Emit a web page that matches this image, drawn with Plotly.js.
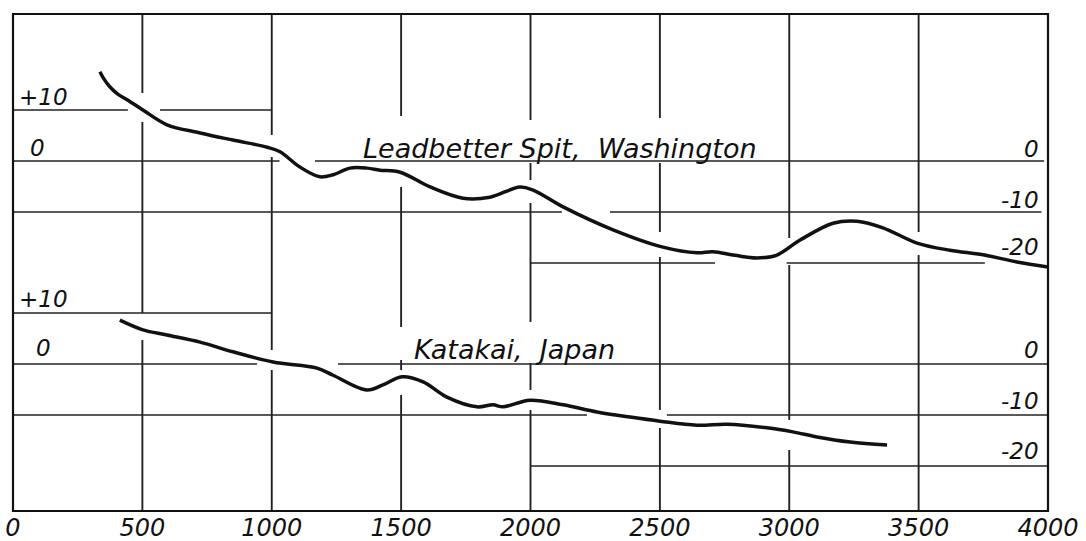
<!DOCTYPE html>
<html>
<head>
<meta charset="utf-8">
<script src="https://cdn.plot.ly/plotly-3.0.1.min.js"></script>
<style>html,body{margin:0;padding:0;background:#fff;}</style>
</head>
<body>
<div id="chart" style="width:1086px;height:541px;"></div>
<script>
// Distance along profile (ft) and elevation (ft)
const leadbetterX = [336,350,375,405,441,502,595,723,850,982,1032,1109,1186,1237,1302,1368,1418,1496,1612,1739,1843,1959,2010,2126,2319,2512,2643,2705,2790,2875,2950,3042,3169,3262,3362,3494,3621,3749,3880,4000];
const leadbetterY = [17.5,16.2,14.5,13.1,12.0,10.0,7.1,5.5,4.1,2.7,1.8,-1.2,-3.1,-2.7,-1.4,-1.4,-1.8,-2.2,-5.1,-7.3,-7.1,-5.1,-5.7,-9.0,-13.5,-16.9,-18.0,-17.8,-18.5,-19.0,-18.5,-15.5,-12.2,-11.8,-13.1,-16.1,-17.5,-18.4,-19.8,-20.8];

const katakaiX = [413,502,595,723,850,1005,1175,1237,1368,1430,1503,1585,1677,1793,1855,1894,1998,2126,2257,2385,2500,2643,2759,2914,3014,3107,3235,3378];
const katakaiY = [8.6,6.7,5.7,4.3,2.4,0.4,-0.8,-2.2,-5.1,-4.1,-2.5,-3.5,-6.5,-8.4,-8.0,-8.4,-7.1,-8.0,-9.4,-10.4,-11.2,-12.0,-11.8,-12.5,-13.3,-14.3,-15.3,-15.9];

const xTicks = [0,500,1000,1500,2000,2500,3000,3500,4000];
const xTickText = ['0','500','1000','1500','2000','2500','3000','3500','4000'];

const profileNames = ['Leadbetter Spit,  Washington', 'Katakai,  Japan'];
const elevLabelsLeft = ['+10','0'];
const elevLabelsRight = ['0','-10','-20'];

const FONT = 'DejaVu Sans, sans-serif';
const INK = '#111';
const GRID = '#222';

const traces = [
  {x: leadbetterX, y: leadbetterY, yaxis: 'y', type: 'scatter', mode: 'lines',
   line: {color: INK, width: 3.5, shape: 'spline', smoothing: 1.0}, hoverinfo: 'skip', showlegend: false},
  {x: katakaiX, y: katakaiY, yaxis: 'y2', type: 'scatter', mode: 'lines',
   line: {color: INK, width: 3.5, shape: 'spline', smoothing: 1.0}, hoverinfo: 'skip', showlegend: false}
];

const shapes = [];
function hseg(yref, y, x0, x1) {
  shapes.push({type: 'line', xref: 'x', yref: yref, x0: x0, x1: x1, y0: y, y1: y,
    line: {color: GRID, width: 1.7}});
}
function vseg(x, y0, y1) {
  shapes.push({type: 'line', xref: 'x', yref: 'y', x0: x, x1: x, y0: y0, y1: y1,
    line: {color: GRID, width: 1.9}});
}
// upper profile reference lines
hseg('y', 10, 0, 444); hseg('y', 10, 568, 1000);
hseg('y', 0, 0, 1030); hseg('y', 0, 1167, 3985);
hseg('y', -10, 0, 2121); hseg('y', -10, 2307, 3975);
hseg('y', -20, 2000, 2713); hseg('y', -20, 2990, 3756);
// lower profile reference lines
hseg('y2', 10, 0, 1000);
hseg('y2', 0, 0, 943); hseg('y2', 0, 1256, 4000);
hseg('y2', -10, 0, 2218); hseg('y2', -10, 2527, 4000);
hseg('y2', -20, 2000, 4000);

// vertical rulings, broken where curves and lettering cross (upper-axis units)
const TOP = 28.82, BOT = -68.63;
const vGaps = {
  500:  [[13.33, 7.65], [-29.80, -35.10]],
  1000: [[5.10, 0.78], [-37.06, -40.98]],
  1500: [[8.82, -5.10], [-32.55, -39.02], [-41.0, -45.88]],
  2000: [[8.04, -0.39], [-3.73, -8.24], [-31.57, -39.61], [-44.90, -48.82]],
  2500: [[8.43, -0.39], [-13.92, -18.82], [-48.82, -52.35]],
  3000: [[-15.10, -20.39], [-50.78, -56.67]],
  3500: [[-13.92, -18.43]]
};
Object.keys(vGaps).forEach(k => {
  const x = +k;
  let cur = TOP;
  vGaps[k].forEach(g => { vseg(x, cur, g[0]); cur = g[1]; });
  vseg(x, cur, BOT);
});
// frame
shapes.push({type: 'rect', xref: 'paper', yref: 'paper', x0: 0, x1: 1, y0: 0, y1: 1,
  line: {color: INK, width: 2.2}});

const annFont = {family: FONT, size: 23, color: INK, style: 'italic'};
const annotations = [];
// left labels
const leftPos = [[15, 12.5, 'left'], [93, 2.5, 'center']];
const leftPos2 = [[17, 12.7, 'left'], [116, 3.1, 'center']];
elevLabelsLeft.forEach((t, i) => {
  annotations.push({x: leftPos[i][0], y: leftPos[i][1], xref: 'x', yref: 'y', text: t,
    showarrow: false, xanchor: leftPos[i][2], yanchor: 'middle', font: annFont});
  annotations.push({x: leftPos2[i][0], y: leftPos2[i][1], xref: 'x', yref: 'y2', text: t,
    showarrow: false, xanchor: leftPos2[i][2], yanchor: 'middle', font: annFont});
});
// right labels
const rightUpper = [2.35, -7.6, -16.9];
const rightLower = [2.7, -7.3, -17.1];
elevLabelsRight.forEach((t, i) => {
  annotations.push({x: 3972, y: rightUpper[i], xref: 'x', yref: 'y', text: t,
    showarrow: false, xanchor: 'right', yanchor: 'middle', font: annFont});
  annotations.push({x: 3972, y: rightLower[i], xref: 'x', yref: 'y2', text: t,
    showarrow: false, xanchor: 'right', yanchor: 'middle', font: annFont});
});
// profile names
const nameFont = {family: FONT, size: 27, color: INK, style: 'italic'};
annotations.push({x: 2114, y: 2.4, xref: 'x', yref: 'y', text: profileNames[0], showarrow: false,
  xanchor: 'center', yanchor: 'middle', font: nameFont});
annotations.push({x: 1940, y: 2.9, xref: 'x', yref: 'y2', text: profileNames[1], showarrow: false,
  xanchor: 'center', yanchor: 'middle', font: nameFont});

const layout = {
  width: 1086, height: 541,
  margin: {l: 13, r: 38, t: 14, b: 30, pad: 0},
  paper_bgcolor: '#fff', plot_bgcolor: '#fff',
  showlegend: false,
  xaxis: {range: [0, 4000], showgrid: false, zeroline: false, showline: false,
    tickmode: 'array', tickvals: xTicks, ticktext: xTickText, ticks: '',
    ticklabelstandoff: 0,
    tickfont: {family: FONT, size: 24, color: INK, style: 'italic'}, fixedrange: true},
  yaxis: {range: [BOT, TOP], visible: false, fixedrange: true},
  yaxis2: {range: [-28.82, 68.63], overlaying: 'y', visible: false, fixedrange: true},
  shapes: shapes,
  annotations: annotations
};
Plotly.newPlot('chart', traces, layout, {displayModeBar: false, staticPlot: true});
</script>
</body>
</html>
